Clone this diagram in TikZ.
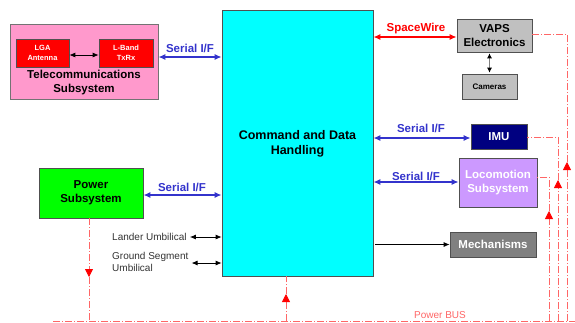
\documentclass[tikz,border=0pt]{standalone}
\usepackage{fontspec}
\setmainfont{Liberation Sans}
\usetikzlibrary{arrows.meta}

\definecolor{telpink}{HTML}{FF99CC}
\definecolor{boxred}{HTML}{FF0000}
\definecolor{cdhcyan}{HTML}{00FFFF}
\definecolor{vapsgray}{HTML}{C0C0C0}
\definecolor{imunavy}{HTML}{000080}
\definecolor{locopurple}{HTML}{CC99FF}
\definecolor{pwrgreen}{HTML}{00FF00}
\definecolor{mechgray}{HTML}{808080}
\definecolor{serialblue}{HTML}{3333CC}
\definecolor{buscol}{HTML}{FF6666}
\definecolor{edgecol}{HTML}{505050}
\definecolor{umbtext}{HTML}{333333}

\begin{document}
\begin{tikzpicture}[x=1pt,y=-1pt,
  box/.style={draw=edgecol, line width=0.7pt, inner sep=0pt, align=center,
    font=\fontsize{11.5}{14}\selectfont\bfseries},
  smallbox/.style={box, font=\fontsize{7.5}{9.5}\selectfont\bfseries},
  serial/.style={draw=serialblue, line width=1.6pt,
    {Latex[length=7pt,width=6pt]}-{Latex[length=7pt,width=6pt]}},
  serlabel/.style={text=serialblue, font=\fontsize{11.5}{14}\selectfont\bfseries, inner sep=0pt},
  spw/.style={draw=boxred, line width=1.6pt,
    {Latex[length=7pt,width=6pt]}-{Latex[length=7pt,width=6pt]}},
  thinarrow/.style={draw=black, line width=0.8pt,
    {Latex[length=6pt,width=5pt]}-{Latex[length=6pt,width=5pt]}},
  umblabel/.style={text=umbtext, font=\fontsize{10}{12}\selectfont, inner sep=1pt, align=left},
  bus/.style={draw=buscol, line width=0.8pt, dash pattern=on 7pt off 2pt on 1pt off 2pt},
  bustip/.style={-{Triangle[width=8pt,length=8pt,color=red,fill=red]}}
]
\useasboundingbox[fill=white] (0,0) rectangle (575,322);

% Telecommunications subsystem
\node[box, fill=telpink, draw=black!55, minimum width=148pt, minimum height=75pt] (tel) at (84,61.5) {};
\node[inner sep=0pt, align=center, font=\fontsize{11.5}{14}\selectfont\bfseries] (tellbl) at (84,83) {Telecommunications\\Subsystem};
\node[smallbox, fill=boxred, text=white, minimum width=53pt, minimum height=28pt] (lga) at (42.5,53) {LGA\\Antenna};
\node[smallbox, fill=boxred, text=white, minimum width=54pt, minimum height=28pt] (lband) at (126,53) {L-Band\\TxRx};
\draw[thinarrow] (lga.east |- 0,55) -- (lband.west |- 0,55);

% Command and data handling
\node[box, fill=cdhcyan, minimum width=151pt, minimum height=266pt] (cdh) at (297.5,143) {};
\node[inner sep=0pt, align=center, font=\fontsize{12.5}{15}\selectfont\bfseries] (cdhlbl) at (297.5,143.5) {Command and Data\\Handling};

% Peripheral units
\node[box, fill=vapsgray, minimum width=75pt, minimum height=33pt] (vaps) at (494.5,35.5) {VAPS\\Electronics};
\node[box, fill=vapsgray, font=\fontsize{8}{10}\selectfont\bfseries, minimum width=55pt, minimum height=25pt] (cam) at (489.5,86.5) {Cameras};
\node[box, fill=imunavy, text=white, minimum width=56pt, minimum height=25pt] (imu) at (499,136.5) {IMU};
\node[box, fill=locopurple, text=white, minimum width=78pt, minimum height=49pt] (loco) at (498,182.5) {Locomotion\\Subsystem};
\node[box, fill=pwrgreen, minimum width=104pt, minimum height=50pt] (pwr) at (91,193) {Power\\Subsystem};
\node[box, fill=mechgray, text=white, minimum width=86pt, minimum height=25pt] (mech) at (493,244.5) {Mechanisms};

% Data links
\draw[serial] (tel.east |- 0,57) -- (cdh.west |- 0,57);
\node[serlabel] (ser1) at (190,48) {Serial I/F};
\draw[spw] (cdh.east |- 0,37) -- (vaps.west |- 0,37);
\node[serlabel, text=boxred] (spwlbl) at (416,28.5) {SpaceWire};
\draw[draw=mechgray, line width=0.8pt, {Latex[length=5pt,width=5pt,color=black]}-{Latex[length=5pt,width=5pt,color=black]}, shorten <=1pt, shorten >=1pt] (cam.north |- vaps.south) -- (cam.north);
\draw[serial] (cdh.east |- 0,138) -- (imu.west |- 0,138);
\node[serlabel] (ser2) at (421,128) {Serial I/F};
\draw[serial] (cdh.east |- 0,182) -- (loco.west |- 0,182);
\node[serlabel] (ser3) at (416,176) {Serial I/F};
\draw[serial] (pwr.east |- 0,195) -- (cdh.west |- 0,195);
\node[serlabel] (ser4) at (182,187) {Serial I/F};
\draw[draw=black, line width=0.8pt, -{Latex[length=6pt,width=5pt]}] ([xshift=2pt]cdh.east |- mech.west) -- (mech.west);

% Umbilicals
\node[umblabel, anchor=west] (lander) at (111,237) {Lander Umbilical};
\draw[thinarrow] ([xshift=2pt]lander.east) -- (cdh.west |- lander.east);
\node[umblabel, anchor=west] (gnd) at (111,262) {Ground Segment\\Umbilical};
\draw[thinarrow] ([xshift=2pt]gnd.east |- 0,263) -- (cdh.west |- 0,263);

% Power bus
\coordinate (busL) at (53,321);
\coordinate (busR) at (575,321);
\draw[bus] (busL) -- (busR);
\node[text=buscol, font=\fontsize{10}{12}\selectfont, inner sep=0pt] (buslbl) at (440,315) {Power BUS};

\coordinate (pdTip) at (89,277);
\draw[bus, bustip] (pwr.south -| pdTip) -- (pdTip);
\draw[bus] (pdTip) -- (pdTip |- busL);

\coordinate (cdTip) at (286,294);
\draw[bus, bustip] (cdTip |- busL) -- (cdTip);
\draw[bus] (cdTip) -- (cdTip |- cdh.south);

\coordinate (vTip) at (567,162);
\draw[bus, bustip] (vTip |- busL) -- (vTip);
\draw[bus] (vTip) -- (vTip |- 0,34) -- (vaps.east |- 0,34);

\coordinate (iTip) at (558,180);
\draw[bus, bustip] (iTip |- busL) -- (iTip);
\draw[bus] (iTip) -- (iTip |- 0,137) -- (imu.east |- 0,137);

\coordinate (lTip) at (549,211);
\draw[bus, bustip] (lTip |- busL) -- (lTip);
\draw[bus] (lTip) -- (lTip |- 0,177) -- (loco.east |- 0,177);
\end{tikzpicture}
\end{document}
